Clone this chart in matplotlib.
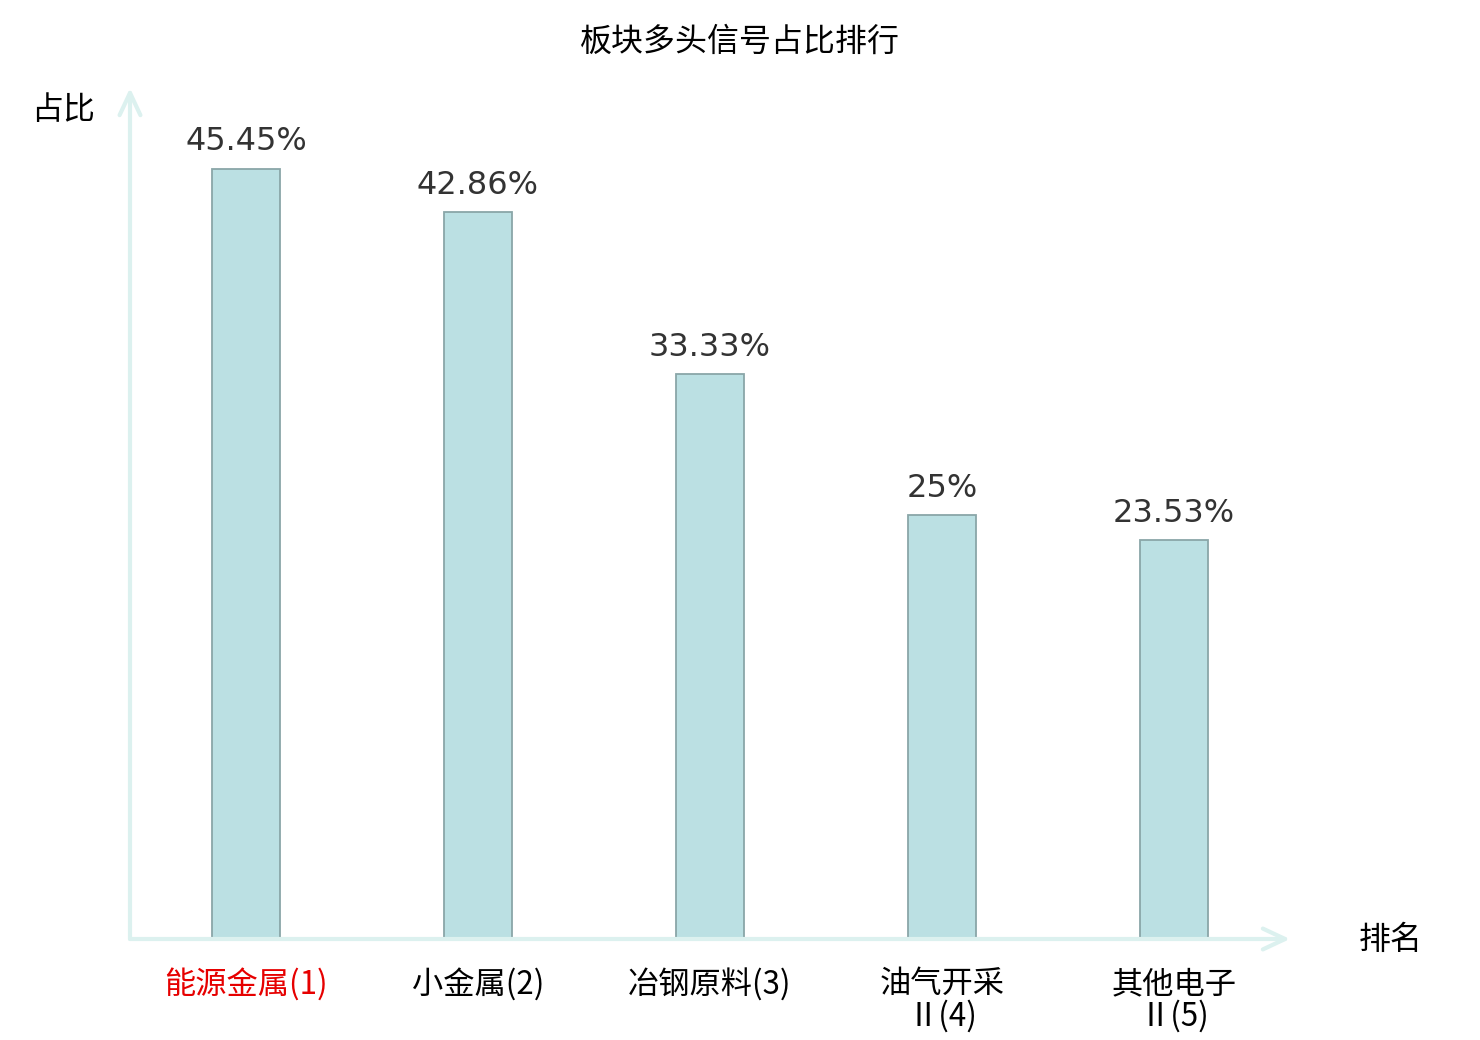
import numpy as np
import matplotlib
matplotlib.use('Agg')
import matplotlib.pyplot as plt

plt.rcParams['font.family'] = ['Noto Sans CJK SC', 'DejaVu Sans']

# data
categories = ['能源金属(1)', '小金属(2)', '冶钢原料(3)', '油气开采\nⅡ(4)', '其他电子\nⅡ(5)']
values = [45.45, 42.86, 33.33, 25, 23.53]
value_labels = ['45.45%', '42.86%', '33.33%', '25%', '23.53%']
label_colors = ['#e60000', '#000000', '#000000', '#000000', '#000000']

W, H = 1480, 1040
fig = plt.figure(figsize=(W / 100, H / 100), dpi=100)
ax = fig.add_axes([130 / W, (H - 939) / H, 1160 / W, (939 - 88) / H])

x = np.arange(len(values))
ax.bar(x, values, width=68 / 232, color='#bbe0e3', edgecolor='#8aa6a8', linewidth=1.3, zorder=2)
ax.set_xlim(-0.5, len(values) - 0.5)
ax.set_ylim(0, 50.2)

for s in ax.spines.values():
    s.set_visible(False)
ax.set_xticks([])
ax.set_yticks([])

# axis arrows
axis_col = '#dcf1ef'
arrow = dict(arrowstyle='->,head_length=1.6,head_width=0.75', color=axis_col, lw=3, shrinkA=0, shrinkB=0)
ax.annotate('', xy=(1, 0), xytext=(0, 0), xycoords='axes fraction', arrowprops=arrow, annotation_clip=False)
ax.annotate('', xy=(0, 1), xytext=(0, 0), xycoords='axes fraction', arrowprops=arrow, annotation_clip=False)

for xi, v, lab in zip(x, values, value_labels):
    ax.annotate(lab, (xi, v), xytext=(0, 8), textcoords='offset points', ha='center', va='bottom',
                fontsize=23, color='#333333', family='DejaVu Sans')

trans = ax.get_xaxis_transform()
for xi, cat, c in zip(x, categories, label_colors):
    ax.annotate(cat, (xi, 0), xycoords=trans, xytext=(0, -21), textcoords='offset points',
                ha='center', va='top', fontsize=22.5, color=c, linespacing=1.0)

fig.text(740 / W, 1 - 42 / H, '板块多头信号占比排行', ha='center', va='center', fontsize=23, color='#000000')
fig.text(63 / W, 1 - 110 / H, '占比', ha='center', va='center', fontsize=23, color='#000000')
fig.text(1391 / W, 1 - 940 / H, '排名', ha='center', va='center', fontsize=23, color='#000000')

fig.savefig('out.png', dpi=100)
